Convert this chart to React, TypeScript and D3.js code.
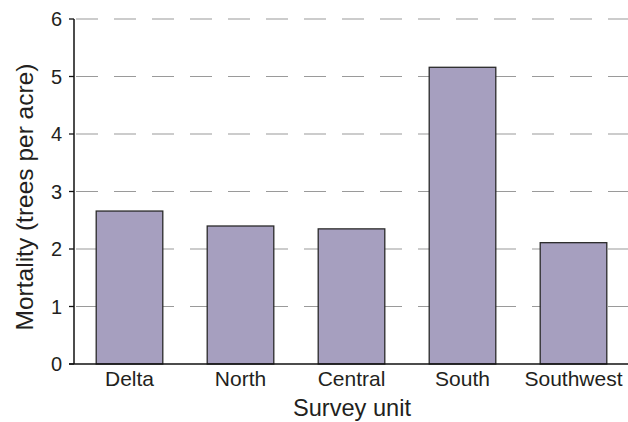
import React from "react";
import * as d3 from "d3";

const categories = ["Delta", "North", "Central", "South", "Southwest"];
const mortality = [2.66, 2.4, 2.35, 5.16, 2.11];
const yTicks = [0, 1, 2, 3, 4, 5, 6];

export default function App() {
  const W = 628, H = 422;
  const left = 74, right = 629, top = 19, bottom = 364;
  const x = d3.scaleBand<string>().domain(categories).range([left, right]).paddingInner(0.4).paddingOuter(0.2);
  const y = d3.scaleLinear().domain([0, 6]).range([bottom, top]);
  const font = "'Liberation Sans', Arial, Helvetica, sans-serif";
  const txt = "#231f20";
  return (
    <svg width={W} height={H} style={{ position: "absolute", left: 0, top: 0, background: "#fff" }}>
      {yTicks.filter(t => t > 0).map(t => (
        <line key={"g" + t} x1={left + 2} x2={W} y1={y(t)} y2={y(t)} stroke="#9a9a9a" strokeWidth={1.2} strokeDasharray="22 16" />
      ))}
      {categories.map((c, i) => (
        <rect key={c} x={x(c)} y={y(mortality[i])} width={x.bandwidth()} height={bottom - y(mortality[i])}
          fill="#a69fbf" stroke="#2a2a2a" strokeWidth={1.3} />
      ))}
      <line x1={left} x2={left} y1={top} y2={bottom} stroke="#111" strokeWidth={1.5} />
      <line x1={left - 5} x2={W} y1={bottom} y2={bottom} stroke="#111" strokeWidth={1.5} />
      {yTicks.map(t => (
        <g key={"t" + t}>
          <line x1={left - 5} x2={left} y1={y(t)} y2={y(t)} stroke="#111" strokeWidth={1.3} />
          <text x={left - 12} y={y(t)} dy="0.36em" textAnchor="end" fontFamily={font} fontSize={20} fill={txt}>{t}</text>
        </g>
      ))}
      {categories.map(c => (
        <text key={"l" + c} x={(x(c) as number) + x.bandwidth() / 2} y={386} textAnchor="middle" fontFamily={font} fontSize={21} fill={txt}>{c}</text>
      ))}
      <text x={352} y={416} textAnchor="middle" fontFamily={font} fontSize={23.6} fill={txt}>Survey unit</text>
      <text transform={`translate(33, 197) rotate(-90)`} textAnchor="middle" fontFamily={font} fontSize={24.5} fill={txt}>Mortality (trees per acre)</text>
    </svg>
  );
}
